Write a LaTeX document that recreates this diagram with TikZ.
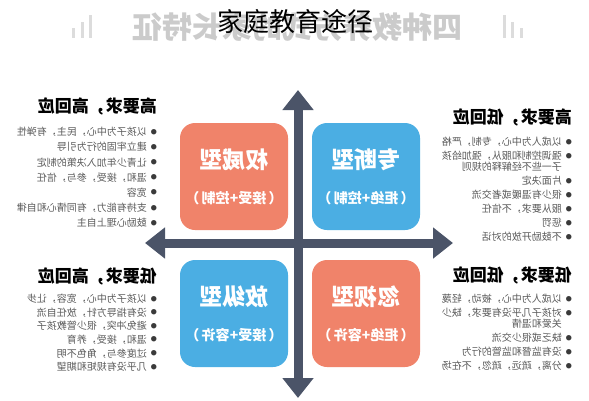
\documentclass[tikz,border=0pt]{standalone}
\usepackage{fontspec}
\setmainfont{Noto Sans CJK SC}
\usepackage{xcolor}
\usetikzlibrary{arrows.meta}

\definecolor{axisslate}{HTML}{4B5468}
\definecolor{boxorange}{HTML}{F0836A}
\definecolor{boxblue}{HTML}{4BAEE3}
\definecolor{itemgray}{HTML}{5A5A5A}
\definecolor{dotgray}{HTML}{3A3A3A}
\definecolor{ghostgray}{HTML}{CBCBCB}
\definecolor{bargray}{HTML}{DCDCDC}

\newcommand{\dotmark}{\raisebox{1.6pt}{\fontsize{6}{6}\selectfont\color{dotgray}●}\hspace{4pt}}
\newcommand{\itm}[1]{\dotmark#1}
\newcommand{\cnt}[1]{\phantom{\dotmark}#1}

\begin{document}
\begin{tikzpicture}[x=1pt,y=-1pt,
  mirror/.style={xscale=-1, inner sep=0pt},
  quadbox/.style={rounded corners=15pt, minimum width=108pt, minimum height=107pt},
  boxtitle/.style={mirror, text=white, font=\fontsize{23}{23}\selectfont\bfseries},
  boxsub/.style={mirror, text=white, font=\fontsize{14}{14}\selectfont\bfseries},
  headline/.style={mirror, anchor=west, font=\fontsize{17}{17}\selectfont\bfseries},
  itemlist/.style={mirror, anchor=north west, align=left, text=itemgray},
  axis/.style={line width=9pt, axisslate,
    {Triangle[length=20pt,width=30pt]}-{Triangle[length=20pt,width=30pt]}}
]
\useasboundingbox (0,0) rectangle (589,400);
% faded banner behind the title
\node[mirror, text=ghostgray, font=\fontsize{30}{30}\selectfont\bfseries] (ghost) at (297,27) {四种教养方式的家长特征};
\foreach \x/\h in {73/10, 82/16, 90/23, 504/23, 512/16, 521/10}{
  \fill[bargray] (\x-1.5,38) rectangle (\x+1.5,38-\h);
}
\node[font=\fontsize{26}{26}\selectfont] (title) at (295,22) {家庭教育途径};
% axes
\coordinate (ytop) at (298,90);
\coordinate (ybot) at (298,398);
\coordinate (xleft) at (145,243);
\coordinate (xright) at (453,243);
\draw[axis] (ybot) -- (ytop);
\draw[axis] (xleft) -- (xright);
% quadrant boxes
\foreach \nm/\cx/\cy/\col/\main/\sub in {
  auth/234/176.5/boxorange/权威型/（\,接受+控制\,）,
  dict/366/176.5/boxblue/专断型/（\,拒绝+控制\,）,
  indu/234/313.5/boxblue/放纵型/（\,接受+容许\,）,
  negl/366/313.5/boxorange/忽视型/（\,拒绝+容许\,）}{
  \node[quadbox, fill=\col] (\nm) at (\cx,\cy) {};
  \node[boxtitle] (\nm-main) at ([yshift=16.5pt]\nm.center) {\main};
  \node[boxsub] (\nm-sub) at ([yshift=-21.5pt]\nm.center) {\sub};
}
% traits, top left
\node[headline] (auth-head) at (157,106) {高要求，高回应};
\node[itemlist, font=\fontsize{10}{15.2}\selectfont] (auth-list) at (157,127) {%
  \itm{以孩子为中心，民主，有弹性}\\
  \itm{建立牢固的行为引导}\\
  \itm{让青少年加入决策的制定}\\
  \itm{温和，接受，参与，信任}\\
  \itm{宽容}\\
  \itm{支持有能力，有同情心和自律}\\
  \itm{鼓励心理上自主}};
% traits, top right
\node[headline] (dict-head) at (572,117) {高要求，低回应};
\node[itemlist, font=\fontsize{10}{14}\selectfont] (dict-list) at (572,137) {%
  \itm{以成人为中心，专制，严格}\\
  \itm{强调控制和服从，强加给孩}\\[-3pt]
  \cnt{子一些不经解释的规则}\\
  \itm{片面决定}\\
  \itm{很少有温暖或者交流}\\
  \itm{服从要求，不信任}\\
  \itm{惩罚}\\
  \itm{不鼓励开放的对话}};
% traits, bottom left
\node[headline] (indu-head) at (157,276) {低要求，高回应};
\node[itemlist, font=\fontsize{10}{13.6}\selectfont] (indu-list) at (157,294) {%
  \itm{以孩子为中心，宽容，让步}\\
  \itm{没有指导方针，放任自流}\\
  \itm{避免冲突，很少管教孩子}\\
  \itm{温和，接受，养育}\\
  \itm{过度参与，角色不明}\\
  \itm{几乎没有规矩和期望}};
% traits, bottom right
\node[headline] (negl-head) at (572,275) {低要求，低回应};
\node[itemlist, font=\fontsize{10}{14}\selectfont] (negl-list) at (572,294) {%
  \itm{以成人为中心，被动，轻蔑}\\
  \itm{对孩子几乎没有要求，缺少}\\[-3pt]
  \cnt{关爱和温情}\\
  \itm{缺乏或很少交流}\\
  \itm{没有监督和监管的行为}\\
  \itm{分离，疏远，疏忽，不在场}};
\end{tikzpicture}
\end{document}
